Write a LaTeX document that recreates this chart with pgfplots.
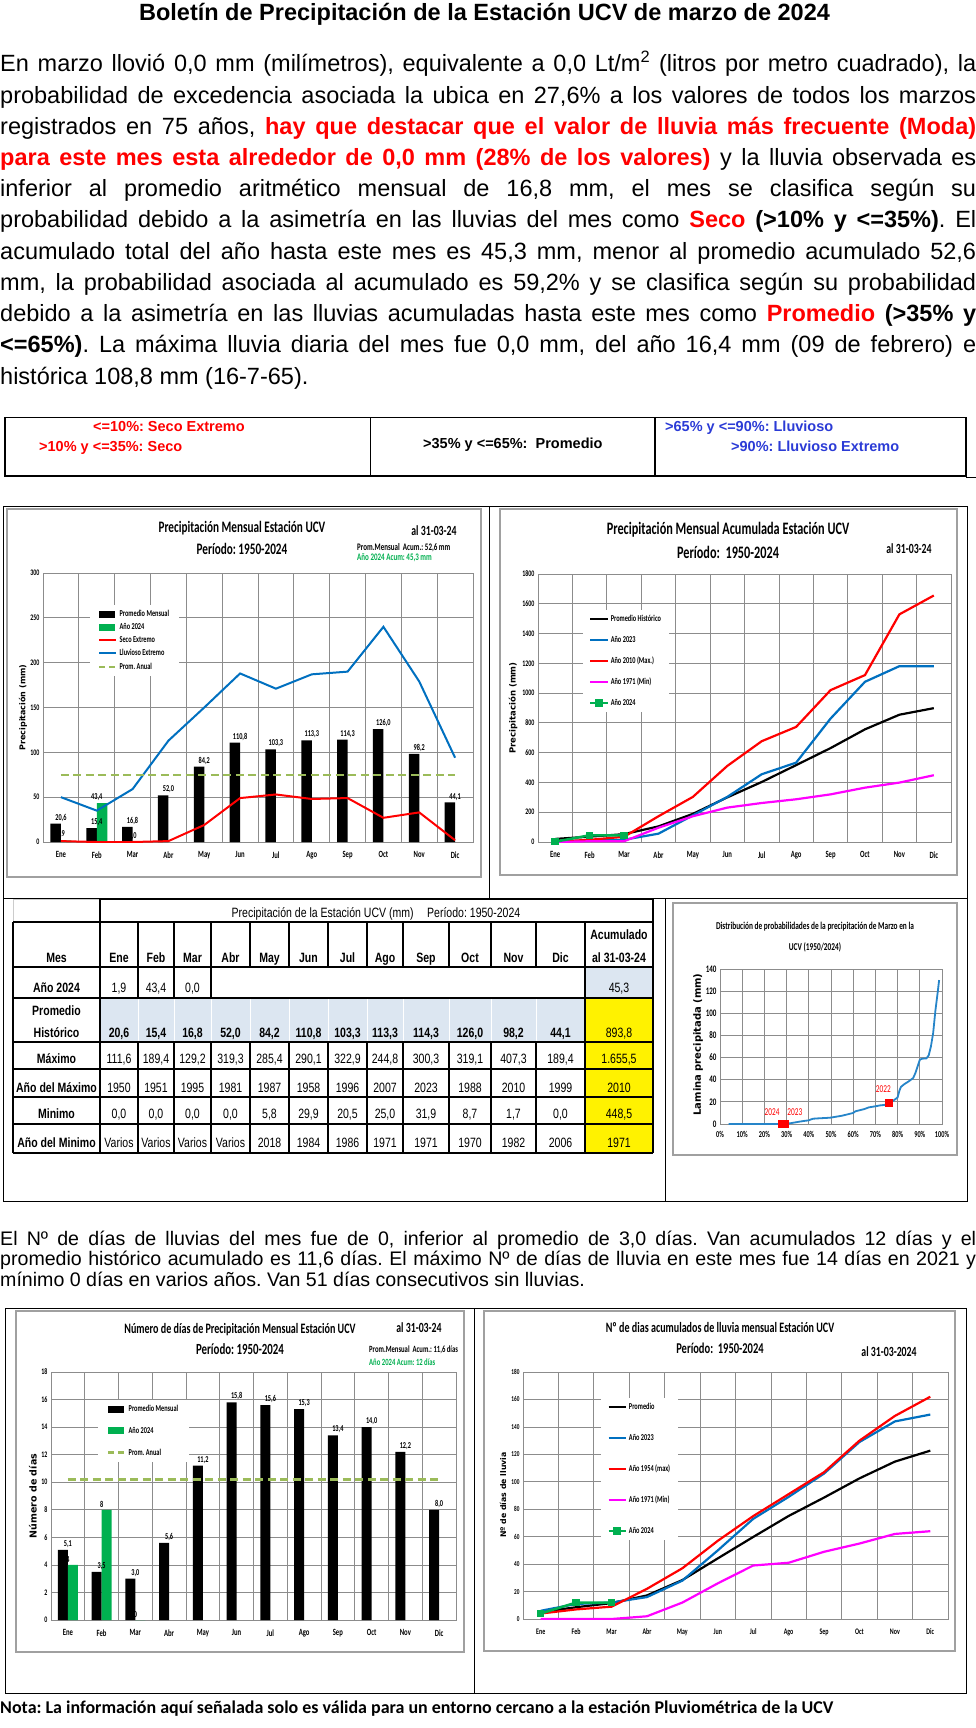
\documentclass[border=0pt]{standalone}
\usepackage{fontspec}
\usepackage{graphicx}
\usepackage{pgfplots}
\pgfplotsset{compat=1.18}
\setmainfont{Liberation Sans}
\newfontfamily\chartfont[FakeStretch=0.7]{Carlito}
\newfontfamily\tabfont[FakeStretch=0.78]{Liberation Sans}
\newfontfamily\labfont{DejaVu Sans}
\newfontfamily\notefont{Carlito}
\definecolor{xgreen}{HTML}{00B050}
\definecolor{xblue}{HTML}{0070C0}
\definecolor{xolive}{HTML}{9BBB59}
\definecolor{xmag}{HTML}{FF00FF}
\definecolor{xred}{HTML}{FF0000}
\definecolor{lblue}{HTML}{DCE6F1}
\definecolor{gridc}{HTML}{8C8C8C}
\definecolor{framec}{HTML}{A0A0A0}
\definecolor{txblue}{HTML}{2B3BD6}
\newcommand{\cf}[1]{\chartfont\bfseries\fontsize{#1pt}{#1pt}\selectfont}
\newcommand{\cfr}[1]{\chartfont\fontsize{#1pt}{#1pt}\selectfont}
\newcommand{\yl}[1]{\labfont\bfseries\fontsize{#1pt}{#1pt}\selectfont}
\newcommand{\rb}[1]{\textcolor{xred}{\bfseries #1}}
\frenchspacing

\pgfplotsset{
  xlbase/.style={
    scale only axis, anchor=south west,
    axis line style={draw=gridc, line width=0.8pt},
    major tick length=0pt, minor tick length=0pt,
    /pgf/number format/assume math mode=true,
    /pgf/number format/1000 sep={},
    yticklabel style={font=\cf{8.5}, text=black},
    xticklabel style={font=\cf{9.5}, text=black},
    ymajorgrids=true,
    major grid style={draw=gridc, line width=0.8pt},
    minor grid style={draw=gridc, line width=0.8pt},
    legend cell align=left,
    legend style={draw=none, fill=white, font=\cf{9}, inner xsep=8pt, inner ysep=3pt, anchor=north west},
  },
  xlmonths/.style={
    xlbase,
    xmin=-0.5, xmax=11.5,
    xtick={0,...,11},
    xticklabels={Ene,Feb,Mar,Abr,May,Jun,Jul,Ago,Sep,Oct,Nov,Dic},
    minor xtick={0.5,1.5,...,10.5},
    xminorgrids=true,
    xticklabel style={yshift=-6pt},
  },
  barnum/.style={
    nodes near coords={\pgfmathprintnumber[fixed,fixed zerofill,precision=#1,use comma]{\pgfplotspointmeta}},
    every node near coord/.append style={font=\cf{9}, text=black, inner sep=2pt},
    point meta=y,
  },
  barleg/.style={legend image code/.code={\fill[#1] (0pt,-3.5pt) rectangle (16pt,3.5pt);}},
  dashleg/.style={legend image code/.code={\draw[xolive, line width=2.5pt, dash pattern=on 6pt off 4pt] (0pt,0pt) -- (17pt,0pt);}},
}

\begin{document}
\begin{tikzpicture}
\path[use as bounding box, fill=white] (0pt,0pt) rectangle (976pt,-1728pt);

\begin{scope}[x=1pt, y=-1pt]
% ---------- Title and paragraph ----------
\node[inner sep=0pt, anchor=base, font=\bfseries\fontsize{23.5pt}{23.5pt}\selectfont] at (484.5,21) {Boletín de Precipitación de la Estación UCV de marzo de 2024};
\begin{scope}[every node/.style={inner sep=0pt, anchor=base west, font=\fontsize{23.5pt}{23.5pt}\selectfont}]
\node at (0,72) {\makebox[976pt][s]{En marzo llovió 0,0 mm (milímetros), equivalente a 0,0 Lt/m\textsuperscript{2} (litros por metro cuadrado), la}};
\node at (0,103.2) {\makebox[976pt][s]{probabilidad de excedencia asociada la ubica en 27,6\% a los valores de todos los marzos}};
\node at (0,134.4) {\makebox[976pt][s]{registrados en 75 años, \rb{hay que destacar que el valor de lluvia más frecuente (Moda)}}};
\node at (0,165.6) {\makebox[976pt][s]{\rb{para este mes esta alrededor de 0,0 mm (28\% de los valores)} y la lluvia observada es}};
\node at (0,196.8) {\makebox[976pt][s]{inferior al promedio aritmético mensual de 16,8 mm, el mes se clasifica según su}};
\node at (0,228) {\makebox[976pt][s]{probabilidad debido a la asimetría en las lluvias del mes como \rb{Seco} \textbf{(>10\% y <=35\%)}. El}};
\node at (0,259.2) {\makebox[976pt][s]{acumulado total del año hasta este mes es 45,3 mm, menor al promedio acumulado 52,6}};
\node at (0,290.4) {\makebox[976pt][s]{mm, la probabilidad asociada al acumulado es 59,2\% y se clasifica según su probabilidad}};
\node at (0,321.6) {\makebox[976pt][s]{debido a la asimetría en las lluvias acumuladas hasta este mes como \rb{Promedio} \textbf{(>35\% y}}};
\node at (0,352.8) {\makebox[976pt][s]{\textbf{<=65\%)}. La máxima lluvia diaria del mes fue 0,0 mm, del año 16,4 mm (09 de febrero) e}};
\node at (0,384) {histórica 108,8 mm (16-7-65).};
\end{scope}

% ---------- Classification box ----------
\draw[line width=1.2pt] (5,417.5) rectangle (966,476);
\draw[line width=1.2pt] (370.5,417.5) -- (370.5,476) (655,417.5) -- (655,476);
\draw[line width=0.8pt] (966,477) -- (976,477);
\begin{scope}[every node/.style={inner sep=0pt, anchor=base west, font=\bfseries\fontsize{14.5pt}{14.5pt}\selectfont}]
\node[text=xred] at (93,431) {<=10\%: Seco Extremo};
\node[text=xred] at (39,451.5) {>10\% y <=35\%: Seco};
\node at (423,448) {>35\% y <=65\%:\ \ Promedio};
\node[text=txblue] at (665,431) {>65\% y <=90\%: Lluvioso};
\node[text=txblue] at (731,451.5) {>90\%: Lluvioso Extremo};
\end{scope}

% ---------- Frames top block ----------
\draw[line width=1pt] (3,506) -- (967,506);
\draw[line width=1pt] (3,506) -- (3,1201) -- (967,1201) -- (967,506);
\draw[line width=1pt] (489,506) -- (489,898.5);
\draw[line width=1pt] (3,898.5) -- (967,898.5);
\draw[line width=1pt] (665,898.5) -- (665,1201);
\draw[framec, line width=1.2pt] (7,509) rectangle (481,877);
\draw[framec, line width=1.2pt] (500,509) rectangle (957,875);
\draw[framec, line width=1.2pt] (673,903) rectangle (957,1155);

% ---------- Frames bottom block ----------
\draw[line width=1pt] (5,1308) rectangle (966,1693);
\draw[line width=1pt] (474,1308) -- (474,1693);
\draw[framec, line width=1.2pt] (16,1311) rectangle (464,1652);
\draw[framec, line width=1.2pt] (484,1311) rectangle (955,1651);

% ---------- Chart titles ----------
\begin{scope}[every node/.style={inner sep=0pt, anchor=base}]
\node[font=\cf{16}] at (242,532) {Precipitación Mensual Estación UCV};
\node[font=\cf{16}] at (242,554) {Período: 1950-2024};
\node[font=\cf{14}] at (434,535.5) {al 31-03-24};
\node[font=\cf{10}, anchor=base west] at (357,550) {Prom.Mensual\ \ Acum.: 52,6 mm};
\node[font=\cf{10}, anchor=base west, text=xgreen] at (357,560.5) {Año 2024 Acum: 45,3 mm};
\node[font=\yl{8}, rotate=90, anchor=center] at (23,707.5) {Precipitación (mm)};

\node[font=\cf{17.5}] at (728,534) {Precipitación Mensual Acumulada Estación UCV};
\node[font=\cf{17.5}] at (728,558) {Período:\ \ 1950-2024};
\node[font=\cf{14}] at (909,553.5) {al 31-03-24};
\node[font=\yl{8.5}, rotate=90, anchor=center] at (513,708) {Precipitación (mm)};

\node[font=\cf{10.5}] at (815,929.5) {Distribución de probabilidades de la precipitación de Marzo en la};
\node[font=\cf{10.5}] at (815,950.5) {UCV (1950/2024)};
\node[font=\yl{10}, rotate=90, anchor=center] at (698,1044.5) {Lamina precipitada (mm)};

\node[font=\cf{14.4}] at (240,1333) {Número de días de Precipitación Mensual Estación UCV};
\node[font=\cf{15.5}] at (240,1354) {Período: 1950-2024};
\node[font=\cf{14}] at (419,1332.5) {al 31-03-24};
\node[font=\cf{9.5}, anchor=base west] at (369,1352.5) {Prom.Mensual\ \ Acum.: 11,6 días};
\node[font=\cf{9.5}, anchor=base west, text=xgreen] at (369,1365.5) {Año 2024 Acum: 12 días};
\node[font=\yl{9.5}, rotate=90, anchor=center] at (33,1496) {Número de días};

\node[font=\cf{14.4}] at (720,1332) {Nº de dias acumulados de lluvia mensual Estación UCV};
\node[font=\cf{15}] at (720,1353) {Período:\ \ 1950-2024};
\node[font=\cf{14}] at (889,1356.5) {al 31-03-2024};
\node[font=\yl{7.8}, rotate=90, anchor=center] at (503,1495) {Nº de días de lluvia};
\end{scope}

% ---------- Data table ----------
\fill[lblue] (585,967) rectangle (653,998);
\fill[lblue] (100,998) rectangle (585,1042);
\fill[yellow] (585,998) rectangle (653,1153);
\draw[gray!40, line width=0.8pt] (13,899) -- (100,899);
\draw[gray!40, line width=0.8pt] (13,899) -- (13,922);
\begin{scope}[line width=1.1pt]
\draw (100,899) -- (653,899);
\foreach \y in {922,967,998,1042,1069,1097,1124,1153} \draw (13,\y) -- (653,\y);
\draw (13,922) -- (13,1153);
\draw (100,899) -- (100,1153);
\draw (653,899) -- (653,1153);
\draw (585,922) -- (585,1153);
\foreach \x in {138,174,211,250,289,328,367,403,449,491,536} {
  \draw (\x,922) -- (\x,967);
  \draw (\x,1042) -- (\x,1153);
}
\foreach \x in {138,174,211} \draw (\x,967) -- (\x,998);
\end{scope}
\foreach \x in {138,174,211,250,289,328,367,403,449,491,536} \draw[white, line width=0.9pt] (\x,999) -- (\x,1041);

\begin{scope}[every node/.style={inner sep=0pt, anchor=base, font=\tabfont\fontsize{13.5pt}{13.5pt}\selectfont},
  tb/.style={font=\tabfont\bfseries\fontsize{13.5pt}{13.5pt}\selectfont}]
\node at (376,917) {Precipitación de la Estación UCV (mm)\quad Período: 1950-2024};
\node[tb] at (56.5,962) {Mes};
\foreach \c/\m in {119/Ene,156/Feb,192.5/Mar,230.5/Abr,269.5/May,308.5/Jun,347.5/Jul,385/Ago,426/Sep,470/Oct,513.5/Nov,560.5/Dic}
  \node[tb] at (\c,962) {\m};
\node[tb] at (619,939) {Acumulado};
\node[tb] at (619,962) {al 31-03-24};
% Año 2024
\node[tb] at (56.5,992) {Año 2024};
\foreach \c/\v in {119/1{,}9,156/43{,}4,192.5/0{,}0,619/45{,}3}
  \node at (\c,992) {\v};
% Promedio
\node[tb] at (56.5,1015) {Promedio};
\node[tb] at (56.5,1037) {Histórico};
\foreach \c/\v in {119/20{,}6,156/15{,}4,192.5/16{,}8,230.5/52{,}0,269.5/84{,}2,308.5/110{,}8,347.5/103{,}3,385/113{,}3,426/114{,}3,470/126{,}0,513.5/98{,}2,560.5/44{,}1}
  \node[tb] at (\c,1037) {\v};
\node at (619,1037) {893,8};
% Maximo
\node[tb] at (56.5,1063) {Máximo};
\foreach \c/\v in {119/111{,}6,156/189{,}4,192.5/129{,}2,230.5/319{,}3,269.5/285{,}4,308.5/290{,}1,347.5/322{,}9,385/244{,}8,426/300{,}3,470/319{,}1,513.5/407{,}3,560.5/189{,}4,619/1.655{,}5}
  \node at (\c,1063) {\v};
% Año del maximo
\node[tb] at (56.5,1092) {Año del Máximo};
\foreach \c/\v in {119/1950,156/1951,192.5/1995,230.5/1981,269.5/1987,308.5/1958,347.5/1996,385/2007,426/2023,470/1988,513.5/2010,560.5/1999,619/2010}
  \node at (\c,1092) {\v};
% Minimo
\node[tb] at (56.5,1118) {Minimo};
\foreach \c/\v in {119/0{,}0,156/0{,}0,192.5/0{,}0,230.5/0{,}0,269.5/5{,}8,308.5/29{,}9,347.5/20{,}5,385/25{,}0,426/31{,}9,470/8{,}7,513.5/1{,}7,560.5/0{,}0,619/448{,}5}
  \node at (\c,1118) {\v};
% Año del minimo
\node[tb] at (56.5,1147) {Año del Minimo};
\foreach \c/\v in {119/Varios,156/Varios,192.5/Varios,230.5/Varios,269.5/2018,308.5/1984,347.5/1986,385/1971,426/1971,470/1970,513.5/1982,560.5/2006,619/1971}
  \node at (\c,1147) {\v};
\end{scope}

% ---------- Second paragraph ----------
\begin{scope}[every node/.style={inner sep=0pt, anchor=base west, font=\fontsize{19.6pt}{19.6pt}\selectfont}]
\node at (0,1245) {\makebox[976pt][s]{El Nº de días de lluvias del mes fue de 0, inferior al promedio de 3,0 días. Van acumulados 12 días y el}};
\node at (0,1265.5) {\makebox[976pt][s]{promedio histórico acumulado es 11,6 días. El máximo Nº de días de lluvia en este mes fue 14 días en 2021 y}};
\node at (0,1286) {mínimo 0 días en varios años. Van 51 días consecutivos sin lluvias.};
\end{scope}

% ---------- Footer ----------
\node[inner sep=0pt, anchor=base west] at (0,1713) {\resizebox{833pt}{!}{\notefont\bfseries Nota: La información aquí señalada solo es válida para un entorno cercano a la estación Pluviométrica de la UCV}};
\end{scope}

% ================= Chart 1 =================
\begin{axis}[xlmonths, at={(43pt,-842pt)}, width=430pt, height=269pt,
  ymin=0, ymax=300, ytick={0,50,...,300},
  legend style={at={(axis description cs:0.109,0.881)}, row sep=1.5pt}]
\addplot[ybar, bar width=10.5pt, bar shift=-5.25pt, fill=black, draw=none, barnum=1, barleg=black]
  coordinates {(0,20.6) (1,15.4) (2,16.8) (3,52.0) (4,84.2) (5,110.8) (6,103.3) (7,113.3) (8,114.3) (9,126.0) (10,98.2) (11,44.1)};
\addlegendentry{Promedio Mensual}
\addplot[ybar, bar width=10.5pt, bar shift=5.25pt, fill=xgreen, draw=none, barnum=1, barleg=xgreen]
  coordinates {(0,1.9) (1,43.4) (2,0.0)};
\addlegendentry{Año 2024}
\addplot[xred, line width=2pt] coordinates {(0,1) (1,0) (2,0) (3,1) (4,19) (5,49) (6,53) (7,48) (8,49) (9,27) (10,33) (11,2)};
\addlegendentry{Seco Extremo}
\addplot[xblue, line width=2pt] coordinates {(0,50) (1,35) (2,59) (3,113) (4,150) (5,188) (6,171) (7,187) (8,190) (9,240) (10,179) (11,94)};
\addlegendentry{Lluvioso Extremo}
\addplot[xolive, line width=2.5pt, dash pattern=on 8pt off 4.5pt, dashleg] coordinates {(0,75) (11,75)};
\addlegendentry{Prom. Anual}
\end{axis}

% ================= Chart 2 =================
\begin{axis}[xlmonths, at={(538pt,-842pt)}, width=413pt, height=268pt,
  ymin=0, ymax=1800, ytick={0,200,...,1800},
  legend style={at={(axis description cs:0.109,0.866)}, row sep=9pt, inner xsep=6pt}]
\addplot[black, line width=2.2pt] coordinates {(0,20.6) (1,36.0) (2,52.8) (3,104.8) (4,189.0) (5,299.8) (6,403.1) (7,516.4) (8,630.7) (9,756.7) (10,854.9) (11,899.0)};
\addlegendentry{Promedio Histórico}
\addplot[xblue, line width=2.2pt] coordinates {(0,5) (1,10) (2,15) (3,56) (4,179) (5,303) (6,455) (7,533) (8,829) (9,1076) (10,1181) (11,1181)};
\addlegendentry{Año 2023}
\addplot[xred, line width=2.2pt] coordinates {(0,2) (1,15) (2,35) (3,173) (4,303) (5,511) (6,677) (7,773) (8,1020) (9,1121) (10,1529) (11,1655.5)};
\addlegendentry{Año 2010 (Max.)}
\addplot[xmag, line width=2.2pt] coordinates {(0,0) (1,5) (2,5) (3,96) (4,173) (5,231) (6,262) (7,287) (8,320) (9,365) (10,399) (11,448.5)};
\addlegendentry{Año 1971 (Min)}
\addplot[xgreen, line width=2.5pt, mark=square*, mark size=2.5pt, mark options={solid, fill=xgreen}] coordinates {(0,1.9) (1,45.3) (2,45.3)};
\addlegendentry{Año 2024}
\end{axis}

% ================= Chart 3 =================
\begin{axis}[xlbase, at={(720pt,-1124pt)}, width=222pt, height=155pt,
  xmin=0, xmax=100, ymin=0, ymax=140, xtick={0,10,...,100}, ytick={0,20,...,140},
  xmajorgrids=true, clip=false,
  xticklabel={\pgfmathprintnumber{\tick}\%},
  xticklabel style={font=\cf{9}, yshift=-4pt}, yticklabel style={font=\cf{10}}]
\addplot[xblue!85!white, line width=1.8pt] coordinates {(3.9,0) (10,0) (15,0) (20,0) (25,0) (28,0) (30,0.2) (32,0.8) (34,1.5) (36,2.2) (38,2.8) (40,3.3) (41,4.2) (42,4.8) (45,5.2) (48,5.5) (50,5.8) (52,6.5) (55,7.5) (58,9) (60,10) (61,11.5) (63,12.5) (65,13.5) (67,15) (70,16) (72,16.8) (74,17.2) (76,18.5) (78,21) (80,24) (80.8,30) (81.5,33.5) (83,36) (85,38.5) (87,41.5) (88,46) (89,52) (90,58) (91,59) (93,59.3) (94,62) (95,70) (96,82) (97,102) (98,118) (98.7,130)};
\addplot[only marks, mark=square*, mark size=3.5pt, color=xred] coordinates {(27.6,0) (29.2,0) (76,19.3)};
\node[font=\cfr{10.5}, text=xred] at (axis cs:23.5,10.3) {2024};
\node[font=\cfr{10.5}, text=xred] at (axis cs:33.7,10.5) {2023};
\node[font=\cfr{10.5}, text=xred] at (axis cs:73.6,31.4) {2022};
\end{axis}

% ================= Chart 4 =================
\begin{axis}[xlmonths, at={(51pt,-1620pt)}, width=405pt, height=248pt,
  ymin=0, ymax=18, ytick={0,2,...,18},
  legend style={at={(axis description cs:0.116,0.887)}, row sep=10pt, inner xsep=9pt}]
\addplot[ybar, bar width=10pt, bar shift=-5pt, fill=black, draw=none, barnum=1, barleg=black]
  coordinates {(0,5.1) (1,3.5) (2,3.0) (3,5.6) (4,11.2) (5,15.8) (6,15.6) (7,15.3) (8,13.4) (9,14.0) (10,12.2) (11,8.0)};
\addlegendentry{Promedio Mensual}
\addplot[ybar, bar width=10pt, bar shift=5pt, fill=xgreen, draw=none, barnum=0, barleg=xgreen]
  coordinates {(0,4) (1,8) (2,0)};
\addlegendentry{Año 2024}
\addplot[xolive, line width=2.5pt, dash pattern=on 8pt off 4.5pt, dashleg] coordinates {(0,10.2) (11,10.2)};
\addlegendentry{Prom. Anual}
\end{axis}

% ================= Chart 5 =================
\begin{axis}[xlmonths, at={(523pt,-1619pt)}, width=425pt, height=247pt,
  ymin=0, ymax=180, ytick={0,20,...,180},
  yticklabel style={font=\cf{7.5}}, xticklabel style={font=\cf{8.5}},
  legend style={at={(axis description cs:0.184,0.895)}, row sep=19pt, inner xsep=6pt}]
\addplot[black, line width=2.2pt] coordinates {(0,5.1) (1,8.6) (2,11.6) (3,17.2) (4,28.4) (5,44.2) (6,59.8) (7,75.1) (8,88.5) (9,102.5) (10,114.7) (11,122.7)};
\addlegendentry{Promedio}
\addplot[xblue, line width=2.2pt] coordinates {(0,6) (1,11) (2,12) (3,16) (4,28) (5,50) (6,73) (7,89) (8,106) (9,129) (10,144) (11,149)};
\addlegendentry{Año 2023}
\addplot[xred, line width=2.2pt] coordinates {(0,4) (1,7) (2,9) (3,22) (4,37) (5,57) (6,75) (7,91) (8,107) (9,130) (10,148) (11,162)};
\addlegendentry{Año 1954 (max)}
\addplot[xmag, line width=2.2pt] coordinates {(0,0) (1,0) (2,0) (3,2) (4,12) (5,26) (6,39) (7,41) (8,49) (9,55) (10,62) (11,64)};
\addlegendentry{Año 1971 (Min)}
\addplot[xgreen, line width=2.5pt, mark=square*, mark size=2.5pt, mark options={solid, fill=xgreen}] coordinates {(0,4) (1,12) (2,12)};
\addlegendentry{Año 2024}
\end{axis}
\end{tikzpicture}
\end{document}
